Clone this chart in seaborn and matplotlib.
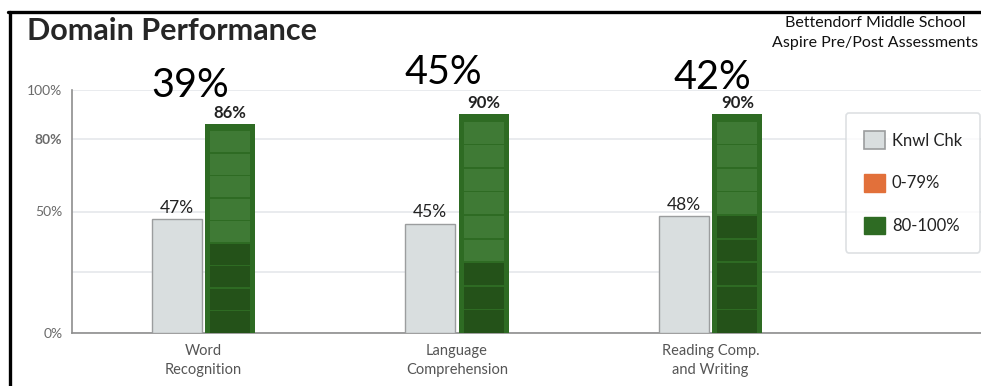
import numpy as np
import pandas as pd
import seaborn as sns
import matplotlib.pyplot as plt
from matplotlib.patches import Patch, Rectangle
from matplotlib.lines import Line2D

# ---------------- data ----------------
domains = ["Word\nRecognition", "Language\nComprehension", "Reading Comp.\nand Writing"]
knwl_chk = [47, 45, 48]          # pre (Knowledge check) scores
post_score = [86, 90, 90]        # post scores (80-100% band)
post_dark = [38, 30, 50]         # lower dark-green portion of the post bar
growth = ["39%", "45%", "42%"]   # large growth numbers above each domain
y_ticks = [0, 25, 50, 80, 100]
y_tick_labels = ["0%", "", "50%", "80%", "100%"]
legend_labels = ["Knwl Chk", "0-79%", "80-100%"]
title = "Domain Performance"
subtitle = "Bettendorf Middle School\nAspire Pre/Post Assessments"

# ---------------- style ----------------
GRAY_FILL = "#d9dedf"
GRAY_EDGE = "#9b9d9e"
GREEN_BORDER = "#2e6b23"
GREEN_LIGHT = "#3f7a35"
GREEN_DARK = "#245219"
ORANGE = "#e2703a"
N_SEG = 9

sns.set_theme(style="white")
plt.rcParams['font.family'] = ['Lato', 'DejaVu Sans']

W, H = 981, 386
fig = plt.figure(figsize=(W / 100, H / 100), dpi=100)
ax = fig.add_axes([72 / W, 1 - 333 / H, 1 - 72 / W, (333 - 90) / H])

df = pd.DataFrame({
    "Domain": domains * 2,
    "Score": knwl_chk + post_score,
    "Test": ["Knwl Chk"] * len(domains) + ["Post"] * len(domains),
})

sns.barplot(data=df, x="Domain", y="Score", hue="Test", order=domains,
            hue_order=["Knwl Chk", "Post"],
            palette={"Knwl Chk": GRAY_FILL, "Post": GREEN_BORDER},
            width=0.422, gap=0.065, saturation=1, errorbar=None,
            legend=False, ax=ax, zorder=3)

gray_bars = ax.containers[0]
green_bars = ax.containers[1]

for bar, v in zip(gray_bars, knwl_chk):
    bar.set_edgecolor(GRAY_EDGE)
    bar.set_linewidth(1.0)
    cx = bar.get_x() + bar.get_width() / 2
    ax.text(cx, v + 1.3, f"{v}%", ha="center", va="bottom", fontsize=12.5,
            color="#222222", zorder=5)

for bar, v, dk in zip(green_bars, post_score, post_dark):
    bar.set_edgecolor("none")
    x0, w = bar.get_x(), bar.get_width()
    cx = x0 + w / 2
    pad = w * 0.10
    top = v - 2.7
    step = top / N_SEG
    for i in range(N_SEG):
        y0 = i * step + (0.35 if i > 0 else 0)
        y1 = (i + 1) * step - 0.35
        col = GREEN_DARK if (i + 0.5) * step < dk else GREEN_LIGHT
        ax.add_patch(Rectangle((x0 + pad, y0), w - 2 * pad, y1 - y0,
                               facecolor=col, edgecolor="none", zorder=4))
    ax.text(cx, v + 1.3, f"{v}%", ha="center", va="bottom", fontsize=12,
            fontweight="bold", color="#222222", zorder=5)

# axes styling
ax.set_xlim(-0.519, 3.067)
ax.set_ylim(0, 100)
ax.set_xlabel("")
ax.set_ylabel("")
ax.set_yticks(y_ticks, y_tick_labels)
ax.yaxis.grid(True, color="#e3e6e9", linewidth=1.1, zorder=0)
ax.set_axisbelow(True)
for s in ["top", "right"]:
    ax.spines[s].set_visible(False)
for s in ["left", "bottom"]:
    ax.spines[s].set_color("#8e8e8e")
    ax.spines[s].set_linewidth(1.2)
ax.tick_params(axis="y", length=0, pad=7, labelsize=10, labelcolor="#6a6a6a")
ax.tick_params(axis="x", length=0, pad=8, labelsize=10.5, labelcolor="#555555")
for lab in ax.get_yticklabels():
    if lab.get_text() == "80%":
        lab.set_fontweight("bold")
for lab in ax.get_xticklabels():
    lab.set_linespacing(1.45)

# big growth numbers
gx = [190, 443, 712]
gy = [97, 84, 89]
for t, x, y in zip(growth, gx, gy):
    fig.text(x / W, 1 - y / H, t, ha="center", va="baseline", fontsize=28.5,
             fontweight="normal", color="black")

# title and school text
fig.text(27 / W, 1 - 40 / H, title, ha="left", va="baseline", fontsize=22,
         fontweight="bold", color="#262626")
fig.text(875 / W, 1 - 16 / H, subtitle, ha="center", va="top", fontsize=11.5,
         color="#111111", linespacing=1.5)

# frame lines (screenshot border)
fig.add_artist(Line2D([8 / W, 1], [1 - 12 / H, 1 - 12 / H], color="black", lw=2.4,
                      transform=fig.transFigure))
fig.add_artist(Line2D([10 / W, 10 / W], [0, 1 - 12 / H], color="black", lw=2.4,
                      transform=fig.transFigure))

# legend
handles = [Patch(facecolor=GRAY_FILL, edgecolor=GRAY_EDGE, linewidth=1.2),
           Patch(facecolor=ORANGE, edgecolor=ORANGE),
           Patch(facecolor=GREEN_BORDER, edgecolor=GREEN_BORDER)]
leg = fig.legend(handles, legend_labels, loc="upper left",
                 bbox_to_anchor=(846 / W, 1 - 113 / H), frameon=True,
                 fontsize=12, handlelength=1.25, handleheight=1.25,
                 handletextpad=0.4, labelspacing=1.5, borderpad=1.1,
                 borderaxespad=0, fancybox=True, edgecolor="#d5d9dc")
leg.get_frame().set_linewidth(1.2)
for t in leg.get_texts():
    t.set_color("#222222")

fig.savefig("out.png", dpi=100, facecolor="white")
